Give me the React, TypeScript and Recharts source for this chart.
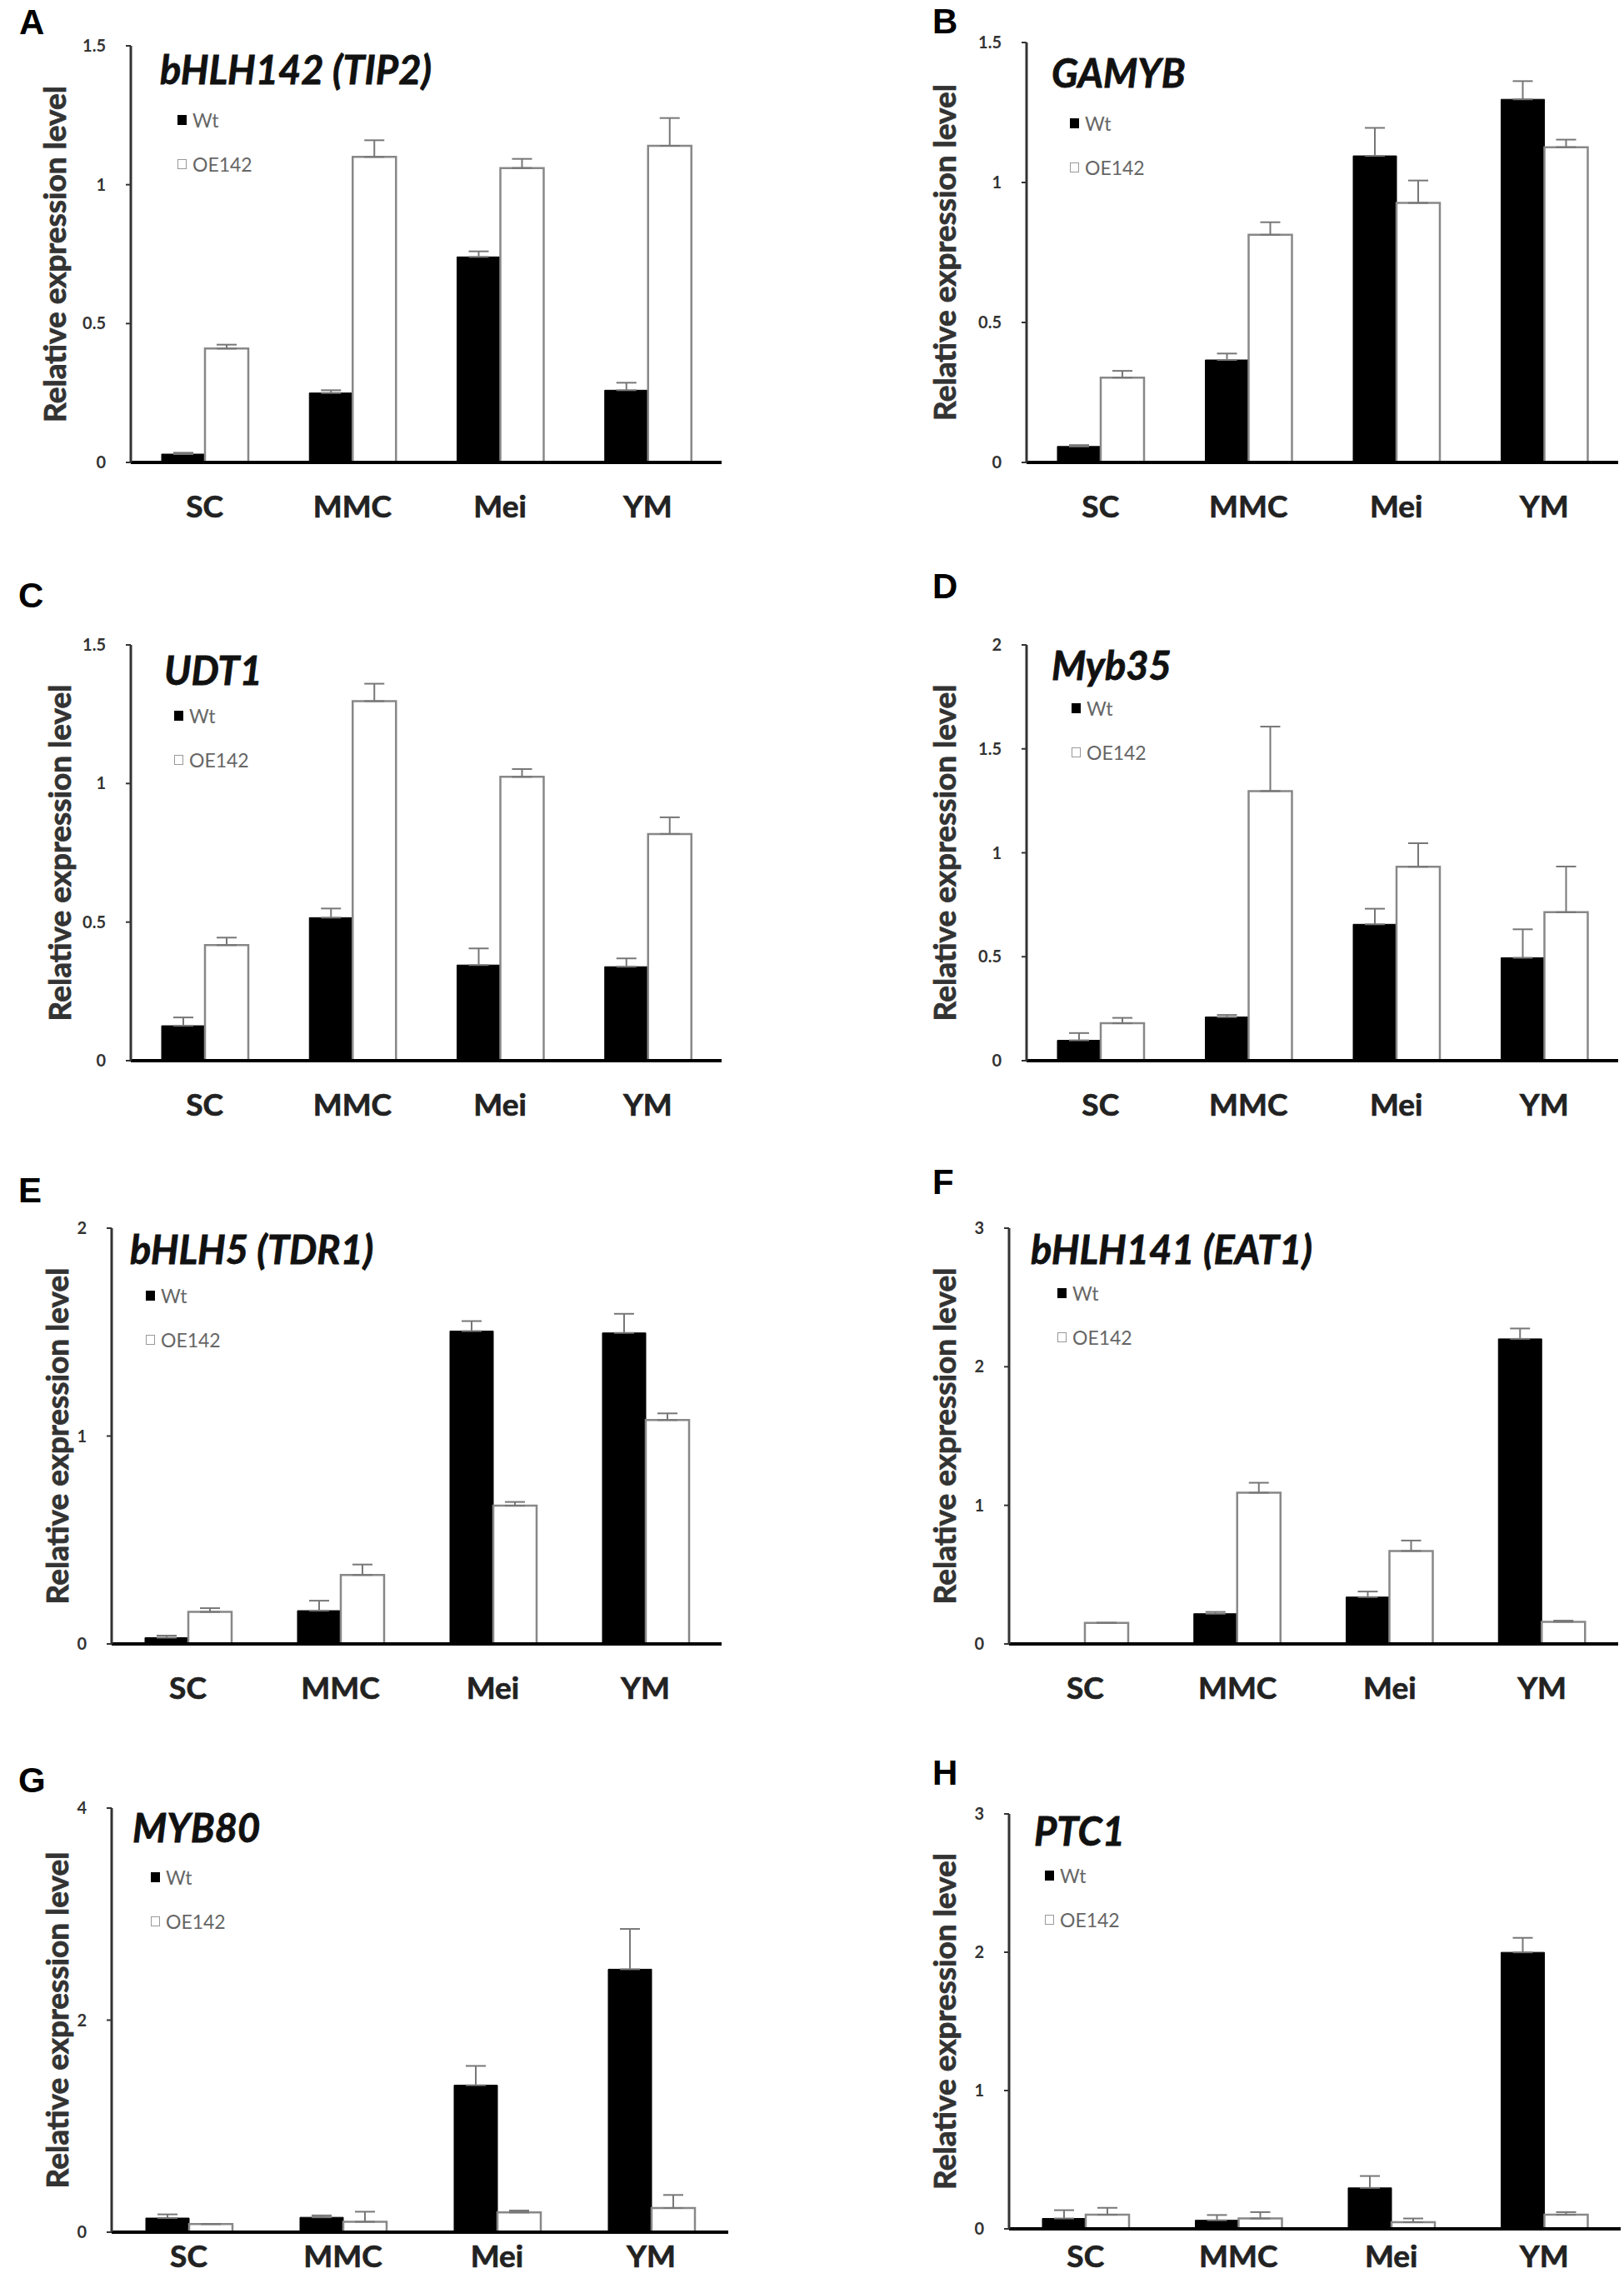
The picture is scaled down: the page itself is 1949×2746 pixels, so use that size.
import { BarChart, Bar, XAxis, YAxis, ErrorBar, Legend } from "recharts";

const stages = ["SC", "MMC", "Mei", "YM"];

// A bHLH142 (TIP2)
const tip2Wt = [0.03, 0.25, 0.74, 0.26];
const tip2WtErr = [0.005, 0.01, 0.02, 0.027];
const tip2Oe = [0.41, 1.1, 1.06, 1.14];
const tip2OeErr = [0.014, 0.06, 0.033, 0.1];

// B GAMYB
const gamybWt = [0.057, 0.366, 1.095, 1.297];
const gamybWtErr = [0.005, 0.023, 0.1, 0.065];
const gamybOe = [0.303, 0.813, 0.927, 1.126];
const gamybOeErr = [0.024, 0.045, 0.08, 0.027];

// C UDT1
const udt1Wt = [0.126, 0.516, 0.345, 0.339];
const udt1WtErr = [0.03, 0.033, 0.06, 0.03];
const udt1Oe = [0.417, 1.297, 1.024, 0.818];
const udt1OeErr = [0.027, 0.063, 0.028, 0.06];

// D Myb35
const myb35Wt = [0.098, 0.21, 0.656, 0.495];
const myb35WtErr = [0.035, 0.01, 0.075, 0.137];
const myb35Oe = [0.18, 1.297, 0.933, 0.714];
const myb35OeErr = [0.026, 0.31, 0.113, 0.22];

// E bHLH5 (TDR1)
const tdr1Wt = [0.03, 0.16, 1.505, 1.496];
const tdr1WtErr = [0.01, 0.048, 0.048, 0.092];
const tdr1Oe = [0.154, 0.332, 0.665, 1.077];
const tdr1OeErr = [0.018, 0.05, 0.018, 0.032];

// F bHLH141 (EAT1)
const eat1Wt = [0, 0.218, 0.338, 2.201];
const eat1WtErr = [0, 0.013, 0.04, 0.075];
const eat1Oe = [0.152, 1.091, 0.671, 0.16];
const eat1OeErr = [0, 0.072, 0.075, 0.008];

// G MYB80
const myb80Wt = [0.133, 0.14, 1.386, 2.48];
const myb80WtErr = [0.035, 0.018, 0.182, 0.38];
const myb80Oe = [0.077, 0.098, 0.186, 0.228];
const myb80OeErr = [0, 0.095, 0.018, 0.123];

// H PTC1
const ptc1Wt = [0.075, 0.062, 0.296, 1.999];
const ptc1WtErr = [0.06, 0.038, 0.086, 0.105];
const ptc1Oe = [0.102, 0.075, 0.048, 0.102];
const ptc1OeErr = [0.05, 0.046, 0.027, 0.019];

const ticks15 = [0, 0.5, 1, 1.5];
const ticks2half = [0, 0.5, 1, 1.5, 2];
const ticks2 = [0, 1, 2];
const ticks3 = [0, 1, 2, 3];
const ticks4 = [0, 2, 4];

const seriesNames = ["Wt", "OE142"];

const rowsOf = (wt: number[], wtErr: number[], oe: number[], oeErr: number[]) =>
  stages.map((stage, i) => ({
    stage,
    wt: wt[i],
    oe: oe[i],
    wtErr: [0, wtErr[i]],
    oeErr: [0, oeErr[i]],
  }));

const panels = [
  { letter: "A", title: "bHLH142 (TIP2)", max: 1.5, ticks: ticks15, rows: rowsOf(tip2Wt, tip2WtErr, tip2Oe, tip2OeErr),
    axisX: 157, topY: 55, zeroY: 555, rightX: 866, labelGap: 91, titleX: 192, titleY: 83, legX: 213, legY: 144, letX: 23, letY: 12, tickGap: 40 },
  { letter: "B", title: "GAMYB", max: 1.5, ticks: ticks15, rows: rowsOf(gamybWt, gamybWtErr, gamybOe, gamybOeErr),
    axisX: 1232, topY: 51, zeroY: 555, rightX: 1942, labelGap: 98, titleX: 1262, titleY: 87, legX: 1284, legY: 148, letX: 1119, letY: 11, tickGap: 40 },
  { letter: "C", title: "UDT1", max: 1.5, ticks: ticks15, rows: rowsOf(udt1Wt, udt1WtErr, udt1Oe, udt1OeErr),
    axisX: 157, topY: 774, zeroY: 1273, rightX: 866, labelGap: 85, titleX: 197, titleY: 804, legX: 209, legY: 859, letX: 22, letY: 700, tickGap: 40 },
  { letter: "D", title: "Myb35", max: 2, ticks: ticks2half, rows: rowsOf(myb35Wt, myb35WtErr, myb35Oe, myb35OeErr),
    axisX: 1232, topY: 774, zeroY: 1273, rightX: 1942, labelGap: 98, titleX: 1262, titleY: 798, legX: 1286, legY: 850, letX: 1119, letY: 689, tickGap: 40 },
  { letter: "E", title: "bHLH5 (TDR1)", max: 2, ticks: ticks2, rows: rowsOf(tdr1Wt, tdr1WtErr, tdr1Oe, tdr1OeErr),
    axisX: 134, topY: 1474, zeroY: 1973, rightX: 866, labelGap: 65, titleX: 156, titleY: 1499, legX: 175, legY: 1555, letX: 22, letY: 1414, tickGap: 40 },
  { letter: "F", title: "bHLH141 (EAT1)", max: 3, ticks: ticks3, rows: rowsOf(eat1Wt, eat1WtErr, eat1Oe, eat1OeErr),
    axisX: 1211, topY: 1474, zeroY: 1973, rightX: 1942, labelGap: 77, titleX: 1237, titleY: 1499, legX: 1269, legY: 1552, letX: 1119, letY: 1404, tickGap: 40 },
  { letter: "G", title: "MYB80", max: 4, ticks: ticks4, rows: rowsOf(myb80Wt, myb80WtErr, myb80Oe, myb80OeErr),
    axisX: 134, topY: 2170, zeroY: 2679, rightX: 874, labelGap: 65, titleX: 159, titleY: 2193, legX: 181, legY: 2253, letX: 22, letY: 2122, tickGap: 16 },
  { letter: "H", title: "PTC1", max: 3, ticks: ticks3, rows: rowsOf(ptc1Wt, ptc1WtErr, ptc1Oe, ptc1OeErr),
    axisX: 1211, topY: 2177, zeroY: 2675, rightX: 1945, labelGap: 77, titleX: 1241, titleY: 2197, legX: 1254, legY: 2251, letX: 1119, letY: 2113, tickGap: 20 },
];

const Y_W = 130;
const M_TOP = 20;
const ROW_H = 53;
const PAGE_H = 2746;

const LegendBox = () => (
  <div style={{ fontFamily: "Lato", fontSize: 23, color: "#666" }}>
    {seriesNames.map((name, i) => (
      <div key={name} style={{ height: ROW_H, display: "flex", alignItems: "center" }}>
        <span
          style={{
            width: 11,
            height: 12,
            marginRight: 7,
            boxSizing: "border-box",
            background: i === 0 ? "#000" : "#fff",
            border: i === 0 ? "1px solid #000" : "1.5px solid #999",
          }}
        />
        {name}
      </div>
    ))}
  </div>
);

function Panel({ p }: { p: (typeof panels)[number] }) {
  const left = p.axisX - Y_W;
  const top = p.topY - M_TOP;
  const width = p.rightX - p.axisX + Y_W + 6;
  // x-axis band: room for the stage labels, but never past the page bottom
  const xH = Math.min(95, PAGE_H - p.zeroY - 1);
  const height = p.zeroY - p.topY + M_TOP + xH;
  return (
    <>
      <div style={{ position: "absolute", left, top }}>
        <BarChart width={width} height={height} data={p.rows} margin={{ top: M_TOP, right: 6, bottom: 0, left: 0 }} barGap={0}>
          <XAxis
            dataKey="stage"
            interval={0}
            height={xH}
            axisLine={{ stroke: "#000", strokeWidth: 4 }}
            tickLine={false}
            tickSize={0}
            tickMargin={p.tickGap}
            tick={{ fill: "#222", fontSize: 37, fontWeight: 700, fontFamily: "Lato", stroke: "#222", strokeWidth: 0.7 }}
          />
          <YAxis
            domain={[0, p.max]}
            ticks={p.ticks}
            allowDataOverflow
            width={Y_W}
            axisLine={{ stroke: "#333", strokeWidth: 3 }}
            tickLine={{ stroke: "#333", strokeWidth: 2 }}
            tickSize={6}
            tickMargin={24}
            tick={{ fill: "#333", fontSize: 20, fontFamily: "Lato", fontWeight: 700 }}
            label={{
              value: "Relative expression level",
              angle: -90,
              position: "insideLeft",
              offset: Y_W - p.labelGap,
              style: { textAnchor: "middle", fontFamily: "Lato", fontSize: 37, fontWeight: 700, fill: "#333", stroke: "#333", strokeWidth: 0.8 },
            }}
          />
          <Legend
            layout="vertical"
            align="center"
            verticalAlign="middle"
            content={() => <LegendBox />}
            wrapperStyle={{ left: p.legX - left, top: p.legY - top - ROW_H / 2, width: 160, height: ROW_H * 2 }}
          />
          <Bar dataKey="wt" name="Wt" fill="#000" stroke="#000" strokeWidth={1} barSize={52} isAnimationActive={false}>
            <ErrorBar dataKey="wtErr" direction="y" width={12} stroke="#777" strokeWidth={2} isAnimationActive={false} />
          </Bar>
          <Bar dataKey="oe" name="OE142" fill="#fff" stroke="#888" strokeWidth={2.5} barSize={52} isAnimationActive={false}>
            <ErrorBar dataKey="oeErr" direction="y" width={12} stroke="#777" strokeWidth={2} isAnimationActive={false} />
          </Bar>
        </BarChart>
      </div>
      <div
        style={{
          position: "absolute",
          left: p.titleX,
          top: p.titleY,
          transform: "translateY(-50%)",
          fontFamily: "Lato",
          fontStyle: "italic",
          fontWeight: 700,
          fontSize: 47,
          lineHeight: 1,
          color: "#111",
          WebkitTextStroke: "0.8px #111",
          whiteSpace: "nowrap",
        }}
      >
        {p.title}
      </div>
      <div
        style={{
          position: "absolute",
          left: p.letX,
          top: p.letY - 6,
          fontFamily: "Liberation Sans",
          fontSize: 42,
          fontWeight: 700,
          lineHeight: 1,
          color: "#000",
        }}
      >
        {p.letter}
      </div>
    </>
  );
}

export default function App() {
  return (
    <div style={{ position: "absolute", left: 0, top: 0, width: 1949, height: PAGE_H, background: "#fff", overflow: "hidden" }}>
      {panels.map((p) => (
        <Panel key={p.letter} p={p} />
      ))}
    </div>
  );
}
